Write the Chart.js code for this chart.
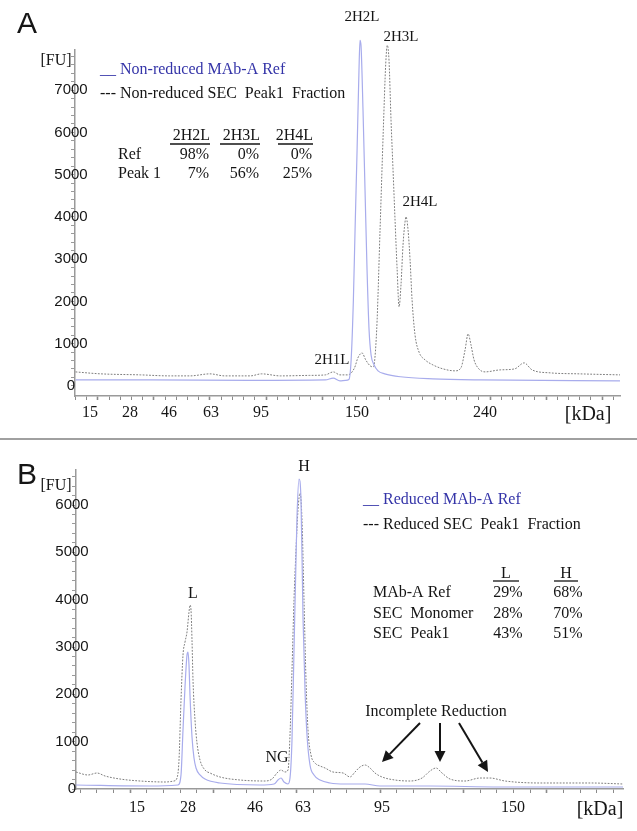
<!DOCTYPE html>
<html>
<head>
<meta charset="utf-8">
<script src="https://cdn.jsdelivr.net/npm/chart.js@4.4.1/dist/chart.umd.min.js"></script>
<style>
  body { margin: 0; background: #fff; width: 637px; height: 831px; position: relative; overflow: hidden; }
  #chartA { position: absolute; left: 0; top: 0; }
  #chartB { position: absolute; left: 0; top: 441px; }
  .sep { position: absolute; left: 0; top: 438px; width: 637px; height: 0; border-top: 2px solid #a0a0a0; }
</style>
</head>
<body>
<canvas id="chartA" width="637" height="438"></canvas>
<div class="sep"></div>
<canvas id="chartB" width="637" height="390"></canvas>
<script>
// Panel A - non-reduced. x = migration time [s], y = fluorescence [FU]
var aRefTime = [18.0, 24.6, 33.6, 40.3, 41.0, 41.6, 42.1, 42.4, 42.6, 42.8, 42.95, 43.13, 43.3, 43.39, 43.48, 43.66, 43.84, 44.02, 44.2, 44.38, 44.64, 45.0, 45.6, 47.0, 49.9, 54.1, 66.6];
var aRefFU = [140, 140, 130, 140, 185, 120, 130, 150, 615, 2030, 3690, 5580, 7470, 8180, 8060, 6525, 4630, 2740, 1320, 730, 500, 355, 285, 215, 165, 140, 120];

var aPeakTime = [18.0, 20.2, 23.8, 26.4, 28.2, 30.0, 31.3, 33.6, 34.6, 36.3, 38.9, 40.3, 41.0, 41.6, 42.3, 42.9, 43.2, 43.57, 43.9, 44.3, 44.58, 44.88, 45.18, 45.47, 45.69, 45.83, 45.98, 46.16, 46.34, 46.52, 46.7, 46.88, 47.05, 47.23, 47.41, 47.5, 47.68, 47.86, 48.04, 48.3, 48.66, 49.2, 49.9, 50.8, 51.9, 52.4, 52.77, 53.04, 53.3, 53.57, 54.0, 54.55, 55.9, 57.2, 58.04, 58.75, 60.4, 63.0, 66.6];
var aPeakFU = [330, 285, 260, 236, 236, 284, 236, 236, 284, 236, 248, 260, 330, 260, 260, 426, 662, 780, 615, 473, 449, 1324, 3688, 6052, 7636, 8061, 7707, 6290, 5110, 3920, 2790, 1870, 2390, 3330, 3880, 4000, 3690, 2980, 2030, 1210, 800, 615, 496, 402, 355, 426, 851, 1230, 969, 615, 402, 331, 378, 402, 544, 378, 307, 284, 260];

var aLadderTime = [19.29, 22.86, 26.34, 30.09, 34.55, 43.13, 54.55, 63.75];
var aLadderLabels = ['15', '28', '46', '63', '95', '150', '240', '[kDa]'];

var aTableCols = ['2H2L', '2H3L', '2H4L'];
var aTableRows = ['Ref', 'Peak 1'];
var aTableValues = [['98%', '0%', '0%'], ['7%', '56%', '25%']];

// Panel B - reduced
var bRefTime = [11.76, 16.2, 17.88, 18.06, 18.18, 18.3, 18.42, 18.48, 18.54, 18.6, 18.72, 18.84, 18.96, 19.2, 19.5, 20.4, 22.8, 23.64, 23.88, 24.06, 24.24, 24.48, 24.6, 24.72, 24.84, 24.96, 25.02, 25.14, 25.26, 25.38, 25.5, 25.62, 25.8, 26.04, 26.4, 27.0, 27.9, 29.1, 30.0, 33.0, 37.2, 44.58];
var bRefFU = [85, 63, 85, 296, 1247, 2155, 2831, 2895, 2620, 1986, 1099, 655, 444, 296, 211, 127, 85, 106, 190, 232, 148, 106, 232, 1035, 2937, 4839, 5747, 6550, 6106, 3634, 2092, 1141, 507, 296, 190, 127, 106, 106, 63, 63, 42, 42];

var bPeakTime = [11.76, 12.48, 13.02, 13.5, 14.4, 15.6, 17.1, 17.64, 17.82, 17.94, 18.06, 18.18, 18.3, 18.42, 18.54, 18.6, 18.66, 18.72, 18.78, 18.9, 19.02, 19.2, 19.5, 19.8, 20.4, 21.6, 23.1, 23.52, 23.82, 24.06, 24.3, 24.48, 24.6, 24.72, 24.84, 24.96, 25.08, 25.2, 25.32, 25.44, 25.56, 25.68, 25.86, 26.1, 26.4, 26.7, 27.18, 27.78, 28.2, 28.5, 28.8, 29.1, 29.4, 29.7, 30.12, 30.9, 31.8, 32.52, 33.0, 33.36, 33.72, 34.2, 35.1, 36.0, 36.6, 37.5, 39.6, 42.6, 44.58];
var bPeakFU = [359, 296, 338, 275, 211, 169, 148, 169, 232, 613, 1881, 2831, 3106, 3317, 3740, 3888, 3782, 3148, 2303, 1458, 972, 613, 401, 338, 254, 190, 169, 211, 338, 401, 359, 401, 1141, 2515, 3994, 5050, 5895, 6254, 5684, 3994, 2303, 1247, 718, 549, 486, 444, 359, 338, 254, 359, 465, 507, 444, 338, 254, 190, 169, 232, 380, 444, 338, 211, 169, 232, 232, 169, 127, 127, 106];

var bLadderTime = [15.42, 18.48, 22.5, 25.38, 30.12, 37.98, 43.2];
var bLadderLabels = ['15', '28', '46', '63', '95', '150', '[kDa]'];

var bTableCols = ['L', 'H'];
var bTableRows = ['MAb-A Ref', 'SEC  Monomer', 'SEC  Peak1'];
var bTableValues = [['29%', '68%'], ['28%', '70%'], ['43%', '51%']];

var BLUE_LINE = 'rgb(168,172,236)';
var GREY_LINE = 'rgb(125,125,125)';
var BLUE_TEXT = 'rgb(52,52,168)';
var INK = '#151515';
var SERIF = '"Liberation Serif", "Times New Roman", serif';
var SANS = '"Liberation Sans", Arial, sans-serif';

function toXY(xs, ys) {
    return xs.map(function(x, i) { return { x: x, y: ys[i] }; });
}

function txt(ctx, s, x, y, font, color, align) {
    ctx.save();
    ctx.font = font;
    ctx.fillStyle = color || INK;
    ctx.textAlign = align || 'left';
    ctx.textBaseline = 'middle';
    ctx.fillText(s, x, y);
    ctx.restore();
}

function hline(ctx, x1, x2, y, w) {
    ctx.save();
    ctx.strokeStyle = INK;
    ctx.lineWidth = w || 1;
    ctx.beginPath();
    ctx.moveTo(x1, y);
    ctx.lineTo(x2, y);
    ctx.stroke();
    ctx.restore();
}

function arrow(ctx, x1, y1, x2, y2) {
    var a = Math.atan2(y2 - y1, x2 - x1);
    var len = 11, half = 5.5;
    var bx = x2 - len * Math.cos(a), by = y2 - len * Math.sin(a);
    ctx.save();
    ctx.strokeStyle = INK;
    ctx.fillStyle = INK;
    ctx.lineWidth = 2;
    ctx.beginPath();
    ctx.moveTo(x1, y1);
    ctx.lineTo(bx, by);
    ctx.stroke();
    ctx.beginPath();
    ctx.moveTo(x2, y2);
    ctx.lineTo(bx + half * Math.sin(a), by - half * Math.cos(a));
    ctx.lineTo(bx - half * Math.sin(a), by + half * Math.cos(a));
    ctx.closePath();
    ctx.fill();
    ctx.restore();
}

// the FU labels sit across the axis line, so they are drawn here instead of by the scale (which clips them)
function fuLabels(chart, cx) {
    var ys = chart.scales.y;
    ys.ticks.forEach(function(t) {
        if (t.label) txt(chart.ctx, t.label, cx, ys.getPixelForValue(t.value), '15px ' + SANS, INK, 'center');
    });
}

function lineSet(label, pts, color, dash, width) {
    return {
        label: label,
        data: pts,
        borderColor: color,
        borderWidth: width,
        borderDash: dash,
        pointRadius: 0,
        cubicInterpolationMode: 'monotone',
        clip: false,
        fill: false
    };
}

function timeAxis(min, max, ladderTime, ladderLabels, height, labelPad) {
    var last = ladderTime[ladderTime.length - 1];
    return {
        type: 'linear',
        min: min,
        max: max,
        afterFit: function(s) { s.height = height; },
        afterBuildTicks: function(s) {
            var t = [];
            for (var v = Math.ceil(min); v <= max; v++) t.push({ value: v });
            ladderTime.forEach(function(v) { t.push({ value: v }); });
            t.sort(function(a, b) { return a.value - b.value; });
            s.ticks = t;
        },
        ticks: {
            autoSkip: false,
            maxRotation: 0,
            padding: labelPad,
            color: INK,
            font: function(c) {
                if (c.tick && c.tick.value === last) return { family: SERIF, size: 20 };
                return { family: SERIF, size: 16 };
            },
            callback: function(value) {
                var i = ladderTime.indexOf(value);
                return i >= 0 ? ladderLabels[i] : '';
            }
        },
        grid: {
            drawOnChartArea: false,
            tickLength: 4,
            tickColor: function(c) {
                if (c.tick && ladderTime.indexOf(c.tick.value) >= 0) return 'rgba(0,0,0,0)';
                return '#8a8a8a';
            },
            tickWidth: function(c) {
                return c.tick && c.tick.value % 5 === 0 ? 1.6 : 1;
            }
        },
        border: { color: '#9a9a9a', width: 1.5 }
    };
}

function fuAxis(min, max, topTick, lastLabel, width) {
    return {
        min: min,
        max: max,
        afterFit: function(s) { s.width = width; },
        afterBuildTicks: function(s) {
            var t = [];
            for (var v = 0; v <= topTick; v += 200) t.push({ value: v });
            s.ticks = t;
        },
        ticks: {
            display: false,
            autoSkip: false,
            callback: function(value) {
                return value % 1000 === 0 && value <= lastLabel ? String(value) : '';
            }
        },
        grid: { drawOnChartArea: false, tickLength: 4, tickColor: '#9a9a9a', tickWidth: 1 },
        border: { color: '#9a9a9a', width: 1.5 }
    };
}

var textA = {
    id: 'textA',
    afterDraw: function(chart) {
        var ctx = chart.ctx, xs = chart.scales.x, ys = chart.scales.y;
        var f16 = '16px ' + SERIF;
        fuLabels(chart, 71);
        txt(ctx, 'A', 17, 25, '30px ' + SANS);
        txt(ctx, '[FU]', 56, 61, f16, INK, 'center');
        txt(ctx, '__ Non-reduced MAb-A Ref', 100, 70, f16, BLUE_TEXT);
        txt(ctx, '--- Non-reduced SEC  Peak1  Fraction', 100, 94, f16, INK);

        var colLeft = [170, 220, 278], colRight = [210, 260, 313];
        aTableCols.forEach(function(c, i) {
            txt(ctx, c, colRight[i], 136, f16, INK, 'right');
            hline(ctx, colLeft[i], colRight[i], 144, 1.3);
        });
        aTableRows.forEach(function(r, j) {
            var y = 155 + j * 19;
            txt(ctx, r, 118, y, f16);
            aTableValues[j].forEach(function(v, i) {
                txt(ctx, v, colRight[i] - 1, y, f16, INK, 'right');
            });
        });

        var peaks = [
            { text: '2H1L', t: 40.89, fu: 615 },
            { text: '2H2L', t: 43.57, fu: 8720 },
            { text: '2H3L', t: 47.05, fu: 8250 },
            { text: '2H4L', t: 48.75, fu: 4350 }
        ];
        peaks.forEach(function(p) {
            txt(ctx, p.text, xs.getPixelForValue(p.t), ys.getPixelForValue(p.fu), '15px ' + SERIF, INK, 'center');
        });
    }
};

var textB = {
    id: 'textB',
    afterDraw: function(chart) {
        var ctx = chart.ctx, xs = chart.scales.x, ys = chart.scales.y;
        var f16 = '16px ' + SERIF;
        fuLabels(chart, 72);
        txt(ctx, 'B', 17, 35, '30px ' + SANS);
        txt(ctx, '[FU]', 56, 45, f16, INK, 'center');
        txt(ctx, '__ Reduced MAb-A Ref', 363, 59, f16, BLUE_TEXT);
        txt(ctx, '--- Reduced SEC  Peak1  Fraction', 363, 84, f16, INK);

        var colMid = [506, 566], colHalf = [13, 12];
        bTableCols.forEach(function(c, i) {
            txt(ctx, c, colMid[i], 133, f16, INK, 'center');
            hline(ctx, colMid[i] - colHalf[i], colMid[i] + colHalf[i], 140, 1.3);
        });
        bTableRows.forEach(function(r, j) {
            var y = 152 + j * 20.5;
            txt(ctx, r, 373, y, f16);
            bTableValues[j].forEach(function(v, i) {
                txt(ctx, v, colMid[i] + 2, y, f16, INK, 'center');
            });
        });

        var peaks = [
            { text: 'L', t: 18.78, fu: 4120 },
            { text: 'NG', t: 23.82, fu: 655 },
            { text: 'H', t: 25.44, fu: 6800 },
            { text: 'Incomplete Reduction', t: 33.36, fu: 1627 }
        ];
        peaks.forEach(function(p) {
            txt(ctx, p.text, xs.getPixelForValue(p.t), ys.getPixelForValue(p.fu), f16, INK, 'center');
        });

        var arrows = [
            [32.4, 1395, 30.12, 571],
            [33.6, 1395, 33.6, 571],
            [34.74, 1395, 36.48, 359]
        ];
        arrows.forEach(function(a) {
            arrow(ctx, xs.getPixelForValue(a[0]), ys.getPixelForValue(a[1]),
                xs.getPixelForValue(a[2]), ys.getPixelForValue(a[3]));
        });
    }
};

var chartA = new Chart(document.getElementById('chartA'), {
    type: 'line',
    data: {
        datasets: [
            lineSet('Non-reduced MAb-A Ref', toXY(aRefTime, aRefFU), BLUE_LINE, [], 1.2),
            lineSet('Non-reduced SEC Peak1 Fraction', toXY(aPeakTime, aPeakFU), GREY_LINE, [1.8, 1.4], 1)
        ]
    },
    options: {
        responsive: false,
        animation: false,
        devicePixelRatio: 1,
        layout: { padding: { top: 50, right: 17, left: 0, bottom: 0 } },
        plugins: { legend: { display: false }, tooltip: { enabled: false } },
        scales: {
            x: timeAxis(17.95, 66.6, aLadderTime, aLadderLabels, 42, 3),
            y: fuAxis(-240, 7950, 7800, 7000, 75)
        }
    },
    plugins: [textA]
});

var chartB = new Chart(document.getElementById('chartB'), {
    type: 'line',
    data: {
        datasets: [
            lineSet('Reduced MAb-A Ref', toXY(bRefTime, bRefFU), BLUE_LINE, [], 1.2),
            lineSet('Reduced SEC Peak1 Fraction', toXY(bPeakTime, bPeakFU), GREY_LINE, [1.8, 1.4], 1)
        ]
    },
    options: {
        responsive: false,
        animation: false,
        devicePixelRatio: 1,
        layout: { padding: { top: 29, right: 14, left: 0, bottom: 0 } },
        plugins: { legend: { display: false }, tooltip: { enabled: false } },
        scales: {
            x: timeAxis(11.76, 44.58, bLadderTime, bLadderLabels, 42, 5),
            y: fuAxis(0, 6740, 6600, 6000, 76)
        }
    },
    plugins: [textB]
});
</script>
</body>
</html>
